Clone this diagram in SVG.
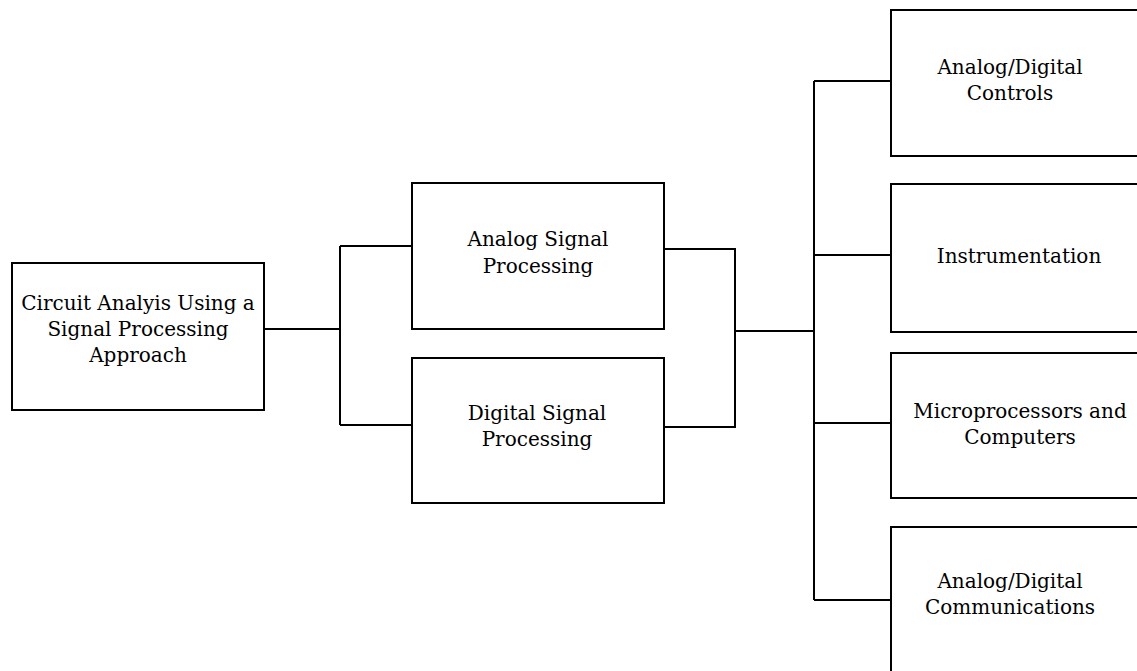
<svg xmlns="http://www.w3.org/2000/svg" width="1137" height="671" viewBox="0 0 1137 671">
<style>
.box{fill:#fff;stroke:#000;stroke-width:2}
.c{fill:none;stroke:#000;stroke-width:2}
text{font-family:"DejaVu Serif","Liberation Serif",serif;font-size:20px;fill:#000;text-anchor:middle}
</style>
<rect width="1137" height="671" fill="#fff"/>
<g id="connectors">
<path class="c" d="M264,329H340M340,246V425M340,246H412M340,425H412"/>
<path class="c" d="M664,249H735V427H664M735,331H814"/>
<path class="c" d="M814,81V600M814,81H891M814,255H891M814,423H891M814,600H891"/>
</g>
<g id="root"><rect class="box" x="12" y="263" width="252" height="147"/>
<text x="138" y="310">Circuit Analyis Using a</text><text x="138" y="336">Signal Processing</text><text x="138" y="362">Approach</text></g>
<g id="asp"><rect class="box" x="412" y="183" width="252" height="146"/>
<text x="538" y="246">Analog Signal</text><text x="538" y="273">Processing</text></g>
<g id="dsp"><rect class="box" x="412" y="358" width="252" height="145"/>
<text x="537" y="420">Digital Signal</text><text x="537" y="446">Processing</text></g>
<g id="controls"><rect class="box" x="891" y="10" width="260" height="146"/>
<text x="1010" y="74">Analog/Digital</text><text x="1010" y="100">Controls</text></g>
<g id="instr"><rect class="box" x="891" y="184" width="260" height="148"/>
<text x="1019" y="263">Instrumentation</text></g>
<g id="micro"><rect class="box" x="891" y="353" width="260" height="145"/>
<text x="1020" y="418">Microprocessors and</text><text x="1020" y="444">Computers</text></g>
<g id="comm"><rect class="box" x="891" y="527" width="260" height="160"/>
<text x="1010" y="588">Analog/Digital</text><text x="1010" y="614">Communications</text></g>
</svg>
